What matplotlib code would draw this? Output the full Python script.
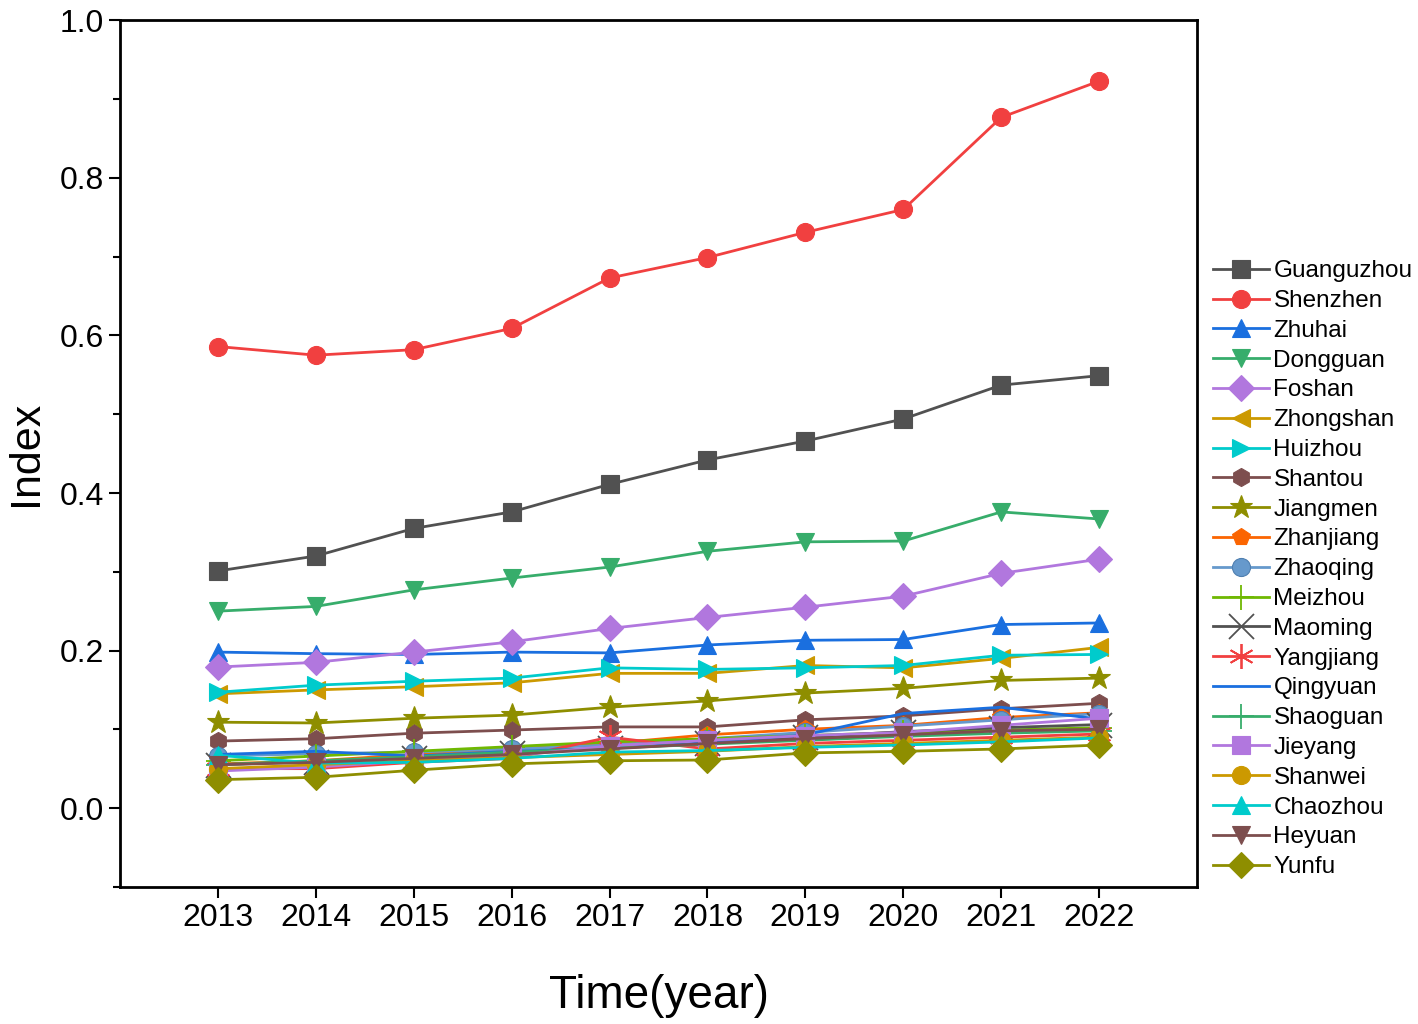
import numpy as np
import matplotlib.pyplot as plt
from matplotlib.ticker import MultipleLocator

plt.rcParams['font.family'] = ['Arial', 'Liberation Sans', 'DejaVu Sans']

years = np.arange(2013, 2023)

cities = ['Guanguzhou', 'Shenzhen', 'Zhuhai', 'Dongguan', 'Foshan', 'Zhongshan',
          'Huizhou', 'Shantou', 'Jiangmen', 'Zhanjiang', 'Zhaoqing', 'Meizhou',
          'Maoming', 'Yangjiang', 'Qingyuan', 'Shaoguan', 'Jieyang', 'Shanwei',
          'Chaozhou', 'Heyuan', 'Yunfu']

guangzhou = [0.301, 0.320, 0.355, 0.376, 0.411, 0.442, 0.466, 0.494, 0.537, 0.549]
shenzhen = [0.586, 0.575, 0.582, 0.609, 0.673, 0.699, 0.731, 0.760, 0.877, 0.923]
zhuhai = [0.198, 0.196, 0.195, 0.198, 0.197, 0.207, 0.213, 0.214, 0.233, 0.235]
dongguan = [0.250, 0.256, 0.277, 0.292, 0.306, 0.326, 0.338, 0.339, 0.376, 0.367]
foshan = [0.179, 0.185, 0.198, 0.211, 0.228, 0.242, 0.255, 0.269, 0.298, 0.316]
zhongshan = [0.145, 0.150, 0.154, 0.159, 0.171, 0.171, 0.181, 0.178, 0.190, 0.204]
huizhou = [0.147, 0.156, 0.161, 0.165, 0.178, 0.176, 0.178, 0.181, 0.194, 0.195]
shantou = [0.085, 0.088, 0.095, 0.099, 0.103, 0.103, 0.112, 0.117, 0.126, 0.133]
jiangmen = [0.109, 0.108, 0.114, 0.118, 0.128, 0.136, 0.146, 0.152, 0.162, 0.165]
zhanjiang = [0.056, 0.060, 0.068, 0.075, 0.082, 0.093, 0.100, 0.105, 0.115, 0.121]
zhaoqing = [0.066, 0.069, 0.071, 0.075, 0.080, 0.088, 0.096, 0.104, 0.112, 0.120]
meizhou = [0.060, 0.066, 0.072, 0.078, 0.084, 0.088, 0.092, 0.096, 0.099, 0.102]
maoming = [0.055, 0.059, 0.064, 0.070, 0.076, 0.082, 0.090, 0.097, 0.102, 0.106]
yangjiang = [0.050, 0.050, 0.058, 0.063, 0.090, 0.075, 0.082, 0.086, 0.090, 0.094]
qingyuan = [0.068, 0.072, 0.066, 0.072, 0.076, 0.083, 0.093, 0.120, 0.128, 0.113]
shaoguan = [0.055, 0.060, 0.065, 0.071, 0.076, 0.081, 0.086, 0.091, 0.095, 0.098]
jieyang = [0.047, 0.052, 0.060, 0.066, 0.079, 0.086, 0.092, 0.096, 0.105, 0.114]
shanwei = [0.050, 0.055, 0.060, 0.064, 0.068, 0.072, 0.078, 0.082, 0.086, 0.090]
chaozhou = [0.067, 0.057, 0.058, 0.063, 0.071, 0.073, 0.077, 0.080, 0.084, 0.089]
heyuan = [0.055, 0.058, 0.063, 0.068, 0.075, 0.082, 0.088, 0.093, 0.098, 0.100]
yunfu = [0.036, 0.039, 0.048, 0.056, 0.060, 0.061, 0.070, 0.072, 0.075, 0.080]

series = [guangzhou, shenzhen, zhuhai, dongguan, foshan, zhongshan, huizhou,
          shantou, jiangmen, zhanjiang, zhaoqing, meizhou, maoming, yangjiang,
          qingyuan, shaoguan, jieyang, shanwei, chaozhou, heyuan, yunfu]

colors = ['#515151', '#F14040', '#1A6FDF', '#37AD6B', '#B177DE', '#CC9900',
          '#00CBCC', '#7D4E4E', '#8E8E00', '#FB6501', '#6699CC', '#6FB802',
          '#515151', '#F14040', '#1A6FDF', '#37AD6B', '#B177DE', '#CC9900',
          '#00CBCC', '#7D4E4E', '#8E8E00']
markers = ['s', 'o', '^', 'v', 'D', '<', '>', 'h', '*', 'p', 'o', '+', 'x',
           (6, 2, 0), None, '+', 's', 'o', '^', 'v', 'D']

fig = plt.figure(figsize=(14.18, 10.24), dpi=100)
ax = fig.add_axes([0.0846, 0.134, 0.7596, 0.846])

for name, vals, c, m in zip(cities, series, colors, markers):
    size = 13
    if m in ('+', 'x', (6, 2, 0)):
        size = 18
    if m == '*':
        size = 17
    ax.plot(years, vals, color=c, marker=m, markersize=size, linewidth=2,
            markeredgewidth=1.3 if m in ('+', 'x', (6, 2, 0)) else 0.8,
            markeredgecolor=c if m != 'o' or name != 'Zhaoqing' else '#4F7FB0',
            label=name)

ax.set_xlim(2012, 2023)
ax.set_ylim(-0.1, 1.0)
ax.set_xticks(years)
ax.yaxis.set_major_locator(MultipleLocator(0.2))
ax.yaxis.set_minor_locator(MultipleLocator(0.1))
ax.tick_params(axis='both', which='major', direction='out', length=8, width=1.5,
               labelsize=23)
ax.tick_params(axis='y', which='minor', direction='out', length=5, width=1.5)
ax.tick_params(axis='x', which='minor', bottom=False)
for sp in ax.spines.values():
    sp.set_linewidth(2)

ax.set_ylabel('Index', fontsize=31, labelpad=10)
ax.set_xlabel('Time(year)', fontsize=33, labelpad=30)

ax.legend(loc='upper left', bbox_to_anchor=(1.001, 0.74), frameon=False,
          fontsize=17.5, labelspacing=0.32, handlelength=2.3, handletextpad=0.2,
          borderaxespad=0.2)

fig.savefig('out.png', dpi=100)
